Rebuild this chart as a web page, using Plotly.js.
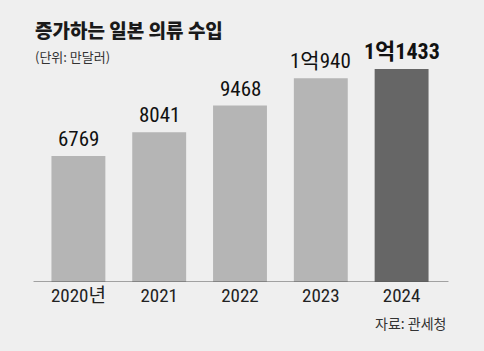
<!DOCTYPE html>
<html><head><meta charset="utf-8">
<script src="https://cdn.plot.ly/plotly-3.0.1.min.js"></script>
<style>html,body{margin:0;padding:0;background:#efefef;}</style>
</head><body>
<div id="chart" style="width:484px;height:351px;"></div>
<script>
const categories = ["2020년", "2021", "2022", "2023", "2024"];
const values = [6769, 8041, 9468, 10940, 11433];
const valueLabels = ["6769", "8041", "9468", "1억940", "1억1433"];
const barColors = ["#b5b5b5", "#b5b5b5", "#b5b5b5", "#b5b5b5", "#666666"];

const numFont = "'Roboto Condensed', 'Noto Sans CJK KR', sans-serif";
const krFont = "'Noto Sans CJK KR', sans-serif";
const trace = {
  type: "bar",
  x: categories,
  y: values,
  marker: {color: barColors},
  hoverinfo: "none"
};
const L = 37.5, R = 41.5, T = 50, B = 69;
const W = 484 - L - R, H = 351 - T - B;
function px(x) { return (x - L) / W; }
function py(y) { return (351 - B - y) / H; }
const valueAnnotations = categories.map((c, i) => {
  const last = i === categories.length - 1;
  return {
    xref: "x", yref: "y", x: i, y: values[i], xanchor: "center", yanchor: "bottom",
    yshift: 3, showarrow: false,
    text: last ? "<b>" + valueLabels[i] + "</b>" : valueLabels[i],
    font: {family: numFont, size: last ? 22 : 21, color: "#111"}
  };
});
const layout = {
  width: 484, height: 351,
  paper_bgcolor: "#efefef", plot_bgcolor: "#efefef",
  margin: {l: L, r: R, t: T, b: B},
  bargap: 0.333,
  showlegend: false,
  xaxis: {type: "category", categoryarray: categories, range: [-0.5, categories.length - 0.5], autorange: false,
          tickfont: {family: numFont, size: 19, color: "#222"}, showline: false, ticks: "", showgrid: false, zeroline: false},
  yaxis: {range: [0, 12453], autorange: false, visible: false, showgrid: false, zeroline: false},
  shapes: [{type: "line", xref: "paper", yref: "y", x0: px(33), x1: px(449), y0: 0, y1: 0, line: {color: "#555", width: 1.2}}],
  annotations: valueAnnotations.concat([
    {xref: "paper", yref: "paper", x: px(32), y: py(30), xanchor: "left", yanchor: "middle", showarrow: false,
     text: "증가하는 일본 의류 수입", font: {family: krFont, size: 19, weight: 900, color: "#1a1a1a"}},
    {xref: "paper", yref: "paper", x: px(32), y: py(57), xanchor: "left", yanchor: "middle", showarrow: false,
     text: "(단위: 만달러)", font: {family: krFont, size: 13, color: "#333"}},
    {xref: "paper", yref: "paper", x: px(449), y: py(323), xanchor: "right", yanchor: "middle", showarrow: false,
     text: "자료: 관세청", font: {family: krFont, size: 14, color: "#333"}}
  ])
};
Plotly.newPlot("chart", [trace], layout, {staticPlot: true, displayModeBar: false});
</script>
</body></html>
